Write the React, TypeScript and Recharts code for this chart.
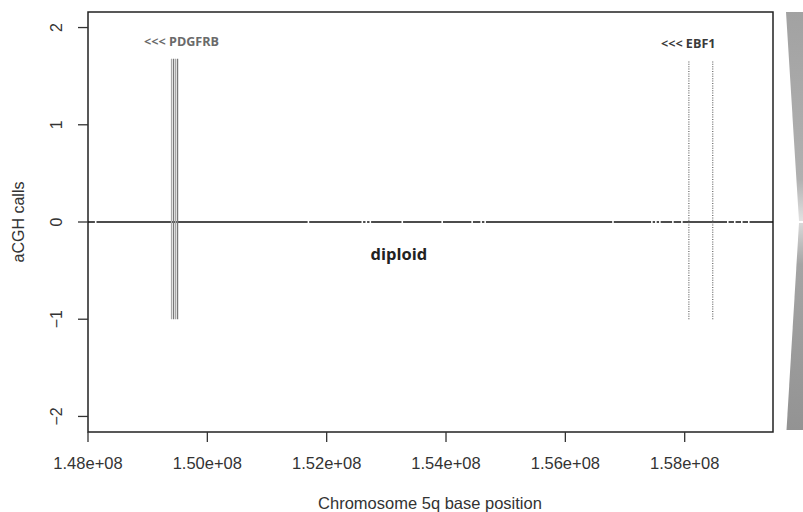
import {
  ComposedChart,
  Line,
  XAxis,
  YAxis,
  ReferenceLine,
  ReferenceArea,
  ReferenceDot,
  Label,
} from "recharts";

// chromosome 5q window (bp) and call range
const X_MIN = 148000000;
const X_MAX = 159480000;
const Y_MIN = -2.16;
const Y_MAX = 2.16;

const X_TICKS = [148000000, 150000000, 152000000, 154000000, 156000000, 158000000];
const Y_TICKS = [-2, -1, 0, 1, 2];

// diploid calls run along zero over the whole window
const ZERO_CALLS = [
  { x: X_MIN, y: 0 },
  { x: X_MAX, y: 0 },
];

// small breaks between called segments on the zero line
const CALL_GAPS = [
  148129000, 151694000, 152597000, 152664000, 152731000, 153267000, 153936000,
  154438000, 154589000, 154656000, 156798000, 157450000, 157517000, 157584000,
  157802000, 157953000, 158722000, 158839000, 158957000, 159074000,
];

// PDGFRB probes (solid) and EBF1 boundaries (dotted)
const PDGFRB_PROBES = [149400000, 149434000, 149468000, 149501000];
const PDGFRB_SHADES = ["#a8a8a8", "#777777", "#a8a8a8", "#777777"];
const PDGFRB_RANGE = [-1, 1.68];

const EBF1_BOUNDS = [158070000, 158470000];
const EBF1_RANGE = [-1, 1.65];

const GENE_LABELS = [
  { name: "<<< PDGFRB", x: 149568000, y: 1.81, color: "#6a6a6a" },
  { name: "<<< EBF1", x: 158060000, y: 1.79, color: "#3a3a3a" },
];

const REGION_LABEL = { name: "diploid", x: 153210000, y: -0.39 };

const AXIS_FONT = "'Liberation Sans', Arial, sans-serif";
const NOTE_FONT = "'Open Sans', sans-serif";

function formatSci(v: number) {
  return `${(v / 1e8).toFixed(2)}e+08`;
}

function YTick({ y, payload }: { y?: number; payload?: { value: number } }) {
  if (y == null || !payload) return null;
  const v = payload.value;
  return (
    <text
      x={62}
      y={y}
      transform={`rotate(-90, 62, ${y})`}
      textAnchor="middle"
      fontSize={16}
      fontFamily={AXIS_FONT}
      fill="#333"
    >
      {v < 0 ? `\u2212${Math.abs(v)}` : v}
    </text>
  );
}

function NoteText({
  cx,
  cy,
  text,
  color,
  size,
}: {
  cx?: number;
  cy?: number;
  text: string;
  color: string;
  size: number;
}) {
  if (cx == null || cy == null) return null;
  return (
    <text
      x={cx}
      y={cy}
      textAnchor="middle"
      fontSize={size}
      fontWeight={700}
      fontFamily={NOTE_FONT}
      fill={color}
    >
      {text}
    </text>
  );
}

// chromosome ideogram sliver at the right margin
function Ideogram() {
  return (
    <svg
      width={803}
      height={512}
      style={{ position: "absolute", left: 0, top: 0, pointerEvents: "none" }}
    >
      <defs>
        <linearGradient id="armP" x1="0" y1="0" x2="0" y2="1">
          <stop offset="0" stopColor="#a2a2a2" />
          <stop offset="0.8" stopColor="#b0b0b0" />
          <stop offset="1" stopColor="#e2e2e2" />
        </linearGradient>
        <linearGradient id="armQ" x1="0" y1="0" x2="0" y2="1">
          <stop offset="0" stopColor="#d8d8d8" />
          <stop offset="0.2" stopColor="#a4a4a4" />
          <stop offset="1" stopColor="#939393" />
        </linearGradient>
      </defs>
      <polygon points="786,12 803,12 803,221 799,221" fill="url(#armP)" />
      <polygon points="799,223 803,223 803,430 786.5,430" fill="url(#armQ)" />
    </svg>
  );
}

export default function App() {
  return (
    <div
      style={{
        position: "absolute",
        left: 0,
        top: 0,
        width: 803,
        height: 512,
        background: "#fff",
      }}
    >
      <ComposedChart
        width={803}
        height={512}
        margin={{ top: 12, right: 30, bottom: 0, left: 0 }}
      >
        <XAxis
          type="number"
          dataKey="x"
          domain={[X_MIN, X_MAX]}
          ticks={X_TICKS}
          allowDataOverflow
          height={80}
          axisLine={false}
          tickLine={{ stroke: "#333", strokeWidth: 1.3 }}
          tickSize={10}
          tickMargin={15}
          tickFormatter={formatSci}
          tick={{ fontSize: 16.5, fill: "#333", fontFamily: AXIS_FONT }}
        >
          <Label
            content={() => (
              <text
                x={430}
                y={509}
                textAnchor="middle"
                fontSize={16.5}
                fontFamily={AXIS_FONT}
                fill="#333"
              >
                Chromosome 5q base position
              </text>
            )}
          />
        </XAxis>
        <YAxis
          type="number"
          domain={[Y_MIN, Y_MAX]}
          ticks={Y_TICKS}
          allowDataOverflow
          width={88}
          axisLine={false}
          tickLine={{ stroke: "#333", strokeWidth: 1.3 }}
          tickSize={10}
          tick={<YTick />}
        >
          <Label
            content={() => (
              <text
                x={24}
                y={222}
                transform="rotate(-90, 24, 222)"
                textAnchor="middle"
                fontSize={16}
                fontFamily={AXIS_FONT}
                fill="#333"
              >
                aCGH calls
              </text>
            )}
          />
        </YAxis>

        <Line
          data={ZERO_CALLS}
          dataKey="y"
          stroke="#111"
          strokeWidth={1.6}
          dot={false}
          activeDot={false}
          isAnimationActive={false}
        />

        {CALL_GAPS.map((g) => (
          <ReferenceLine
            key={`gap-${g}`}
            segment={[
              { x: g, y: -0.025 },
              { x: g, y: 0.025 },
            ]}
            stroke="#fff"
            strokeWidth={1.6}
          />
        ))}

        {PDGFRB_PROBES.map((p, i) => (
          <ReferenceLine
            key={`pdgfrb-${p}`}
            segment={[
              { x: p, y: PDGFRB_RANGE[0] },
              { x: p, y: PDGFRB_RANGE[1] },
            ]}
            stroke={PDGFRB_SHADES[i]}
            strokeWidth={1.3}
          />
        ))}

        {EBF1_BOUNDS.map((p) => (
          <ReferenceLine
            key={`ebf1-${p}`}
            segment={[
              { x: p, y: EBF1_RANGE[0] },
              { x: p, y: EBF1_RANGE[1] },
            ]}
            stroke="#666"
            strokeWidth={1.2}
            strokeDasharray="1 1.4"
          />
        ))}

        {GENE_LABELS.map((g) => (
          <ReferenceDot
            key={g.name}
            x={g.x}
            y={g.y}
            r={0}
            shape={(props: { cx?: number; cy?: number }) => (
              <NoteText
                cx={props.cx}
                cy={props.cy}
                text={g.name}
                color={g.color}
                size={12.6}
              />
            )}
          />
        ))}

        <ReferenceDot
          x={REGION_LABEL.x}
          y={REGION_LABEL.y}
          r={0}
          shape={(props: { cx?: number; cy?: number }) => (
            <NoteText
              cx={props.cx}
              cy={props.cy}
              text={REGION_LABEL.name}
              color="#222"
              size={16.5}
            />
          )}
        />

        {/* plot frame */}
        <ReferenceArea
          x1={X_MIN}
          x2={X_MAX}
          y1={Y_MIN}
          y2={Y_MAX}
          fill="none"
          stroke="#222"
          strokeWidth={1.5}
          ifOverflow="visible"
        />
      </ComposedChart>
      <Ideogram />
    </div>
  );
}
